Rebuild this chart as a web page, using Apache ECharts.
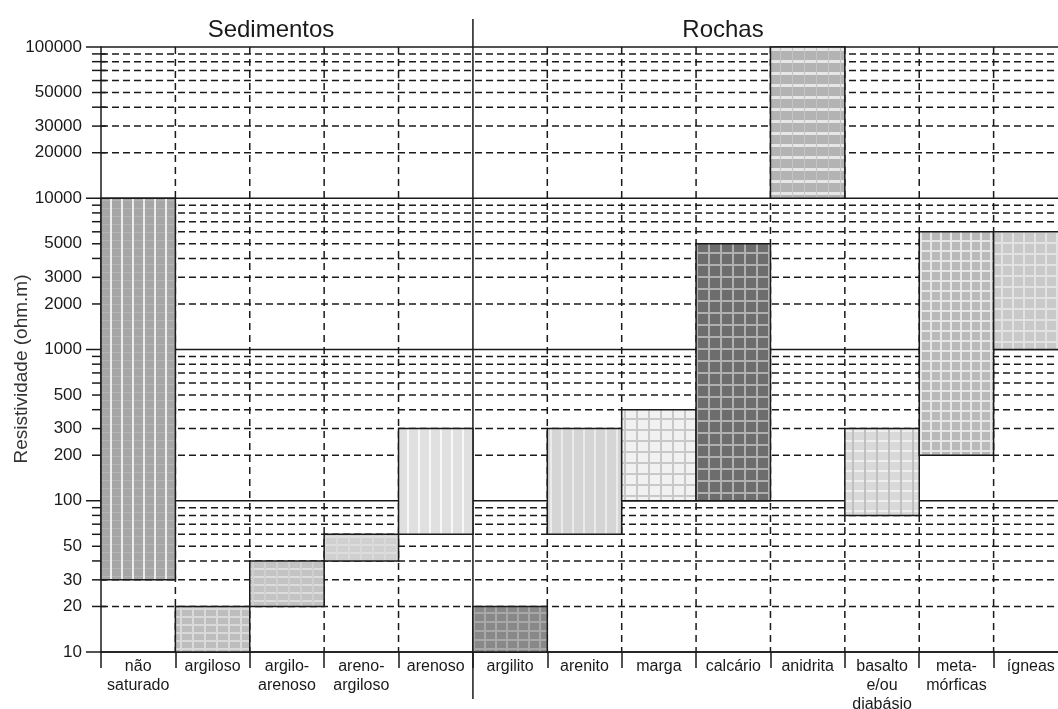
<!DOCTYPE html>
<html><head><meta charset="utf-8">
<script src="https://cdn.jsdelivr.net/npm/echarts@6/dist/echarts.min.js"></script>
<style>html,body{margin:0;padding:0;background:#fff}#c{width:1058px;height:709px}</style>
</head><body><div id="c"></div>
<script>
// ---------- DATA ----------
const categories = ['não\nsaturado', 'argiloso', 'argilo-\narenoso', 'areno-\nargiloso', 'arenoso',
  'argilito', 'arenito', 'marga', 'calcário', 'anidrita', 'basalto\ne/ou\ndiabásio', 'meta-\nmórficas', 'ígneas'];
const lowValues  = [30, 10, 20, 40, 60, 10, 60, 100, 100, 10000, 80, 200, 1000];
const highValues = [10000, 20, 40, 60, 300, 20, 300, 400, 5000, 100000, 300, 6000, 6000];
const groupNames = ['Sedimentos', 'Rochas'];
const sedimentCount = 5;
const yAxisTitle = 'Resistividade (ohm.m)';
const yLabelValues = [10, 20, 30, 50, 100, 200, 300, 500, 1000, 2000, 3000, 5000, 10000, 20000, 30000, 50000, 100000];
const majorGridValues = [10, 100, 1000, 10000, 100000];
const minorGridValues = [20, 30, 40, 50, 60, 70, 80, 90,
  200, 300, 400, 500, 600, 700, 800, 900,
  2000, 3000, 4000, 5000, 6000, 7000, 8000, 9000,
  20000, 30000, 40000, 50000, 60000, 70000, 80000, 90000];

// ---------- STYLES ----------
const patternSpecs = [
  {bg:'#a6a6a6', w:11, h:8,  v:'#ececec', vw:2, hc:'#b4b4b4', hw:1},
  {bg:'#bdbdbd', w:12, h:8,  v:'#d9d9d9', vw:2, hc:'#d9d9d9', hw:2},
  {bg:'#c3c3c3', w:12, h:8,  v:'#d0d0d0', vw:2, hc:'#dcdcdc', hw:2},
  {bg:'#d0d0d0', w:12, h:8,  v:'#dadada', vw:2, hc:'#dedede', hw:2},
  {bg:'#e0e0e0', w:11, h:10, v:'#f8f8f8', vw:2},
  {bg:'#888888', w:11, h:9,  v:'#a8a8a8', vw:2, hc:'#a8a8a8', hw:2},
  {bg:'#d5d5d5', w:11, h:10, v:'#ebebeb', vw:2},
  {bg:'#f1f1f1', w:12, h:11, v:'#c8c8c8', vw:2, hc:'#c8c8c8', hw:2},
  {bg:'#6d6d6d', w:12, h:12, v:'#b0b0b0', vw:2, hc:'#b0b0b0', hw:2},
  {bg:'#b3b3b3', w:12, h:12, v:'#c4c4c4', vw:1, hc:'#e6e6e6', hw:3},
  {bg:'#d9d9d9', w:12, h:10, v:'#c0c0c0', vw:2, hc:'#efefef', hw:2},
  {bg:'#b9b9b9', w:10, h:10, v:'#e6e6e6', vw:2, hc:'#e6e6e6', hw:2},
  {bg:'#c9c9c9', w:11, h:11, v:'#e2e2e2', vw:2, hc:'#e2e2e2', hw:2}
];
function makePattern(s) {
  const c = document.createElement('canvas');
  c.width = s.w; c.height = s.h;
  const g = c.getContext('2d');
  g.fillStyle = s.bg; g.fillRect(0, 0, s.w, s.h);
  if (s.hc) { g.fillStyle = s.hc; g.fillRect(0, 0, s.w, s.hw); }
  if (s.v) { g.fillStyle = s.v; g.fillRect(0, 0, s.vw, s.h); }
  return {image: c, repeat: 'repeat'};
}
const patterns = patternSpecs.map(makePattern);

const FONT = 'Liberation Sans, Arial, sans-serif';
const INK = '#1a1a1a';

const chart = echarts.init(document.getElementById('c'), null, {renderer: 'canvas'});

const gridData = majorGridValues.map(v => [v, 1]).concat(minorGridValues.map(v => [v, 0]));
const boundaryData = categories.map((c, i) => [i]).slice(1);
const barData = categories.map((c, i) => [i, lowValues[i], highValues[i]]);

chart.setOption({
  animation: false,
  backgroundColor: '#fff',
  grid: {left: 101, top: 47, width: 967, height: 605, containLabel: false, outerBoundsMode: 'none'},
  xAxis: {
    type: 'category', data: categories, boundaryGap: true,
    axisLine: {lineStyle: {color: INK, width: 1.5}},
    axisTick: {show: true, length: 16, interval: 0, lineStyle: {color: INK, width: 1.5}},
    axisLabel: {interval: 0, margin: 5, fontSize: 16, lineHeight: 19, color: INK, fontFamily: FONT},
    splitLine: {show: false}
  },
  yAxis: {
    type: 'log', logBase: 10, min: 10, max: 100000,
    axisLine: {show: true, lineStyle: {color: INK, width: 1.5}},
    axisTick: {show: false}, axisLabel: {show: false}, splitLine: {show: false}, minorTick: {show: false}
  },
  graphic: [
    {type: 'text', x: 271, y: 30, style: {text: groupNames[0], font: '24px ' + FONT, fill: INK, align: 'center', verticalAlign: 'middle'}},
    {type: 'text', x: 723, y: 30, style: {text: groupNames[1], font: '24px ' + FONT, fill: INK, align: 'center', verticalAlign: 'middle'}},
    {type: 'text', x: 22, y: 369, rotation: Math.PI / 2, style: {text: yAxisTitle, font: '19px ' + FONT, fill: '#333', align: 'center', verticalAlign: 'middle'}}
  ],
  series: [
    { // horizontal grid lines + y ticks
      type: 'custom', z: 1, silent: true, clip: false,
      data: gridData,
      renderItem(params, api) {
        const cs = params.coordSys;
        const y = api.coord([0, api.value(0)])[1];
        const major = api.value(1) === 1;
        const lineStyle = {stroke: INK, lineWidth: 1.5, lineDash: major ? null : [7, 4]};
        return {type: 'group', children: [
          {type: 'line', shape: {x1: cs.x, y1: y, x2: cs.x + cs.width, y2: y}, style: lineStyle},
          {type: 'line', shape: {x1: cs.x - (major ? 15 : 9), y1: y, x2: cs.x + (major ? 0 : 5), y2: y}, style: {stroke: INK, lineWidth: 1.5}}
        ]};
      }
    },
    { // y labels
      type: 'custom', z: 1, silent: true, clip: false,
      data: yLabelValues.map(v => [v]),
      renderItem(params, api) {
        const cs = params.coordSys;
        const y = api.coord([0, api.value(0)])[1];
        return {type: 'text', x: cs.x - 19, y: y, style: {text: String(api.value(0)), font: '17px ' + FONT, fill: INK, align: 'right', verticalAlign: 'middle'}};
      }
    },
    { // vertical category separators
      type: 'custom', z: 1, silent: true, clip: false,
      data: boundaryData,
      renderItem(params, api) {
        const cs = params.coordSys;
        const i = api.value(0);
        const x = api.coord([i, 10])[0] - api.size([1, 0])[0] / 2;
        if (i === sedimentCount) {
          return {type: 'line', z2: 5, shape: {x1: x, y1: cs.y - 28, x2: x, y2: cs.y + cs.height + 47}, style: {stroke: INK, lineWidth: 1.5}};
        }
        return {type: 'line', shape: {x1: x, y1: cs.y, x2: x, y2: cs.y + cs.height}, style: {stroke: INK, lineWidth: 1.5, lineDash: [7, 5]}};
      }
    },
    { // range bars
      type: 'custom', z: 3, clip: false,
      data: barData,
      renderItem(params, api) {
        const i = api.value(0);
        const top = api.coord([i, api.value(2)]);
        const bot = api.coord([i, api.value(1)]);
        const w = api.size([1, 0])[0];
        return {type: 'rect', shape: {x: top[0] - w / 2, y: top[1], width: w, height: bot[1] - top[1]},
          style: {fill: patterns[i], stroke: INK, lineWidth: 1.5}};
      }
    }
  ]
});
</script></body></html>
